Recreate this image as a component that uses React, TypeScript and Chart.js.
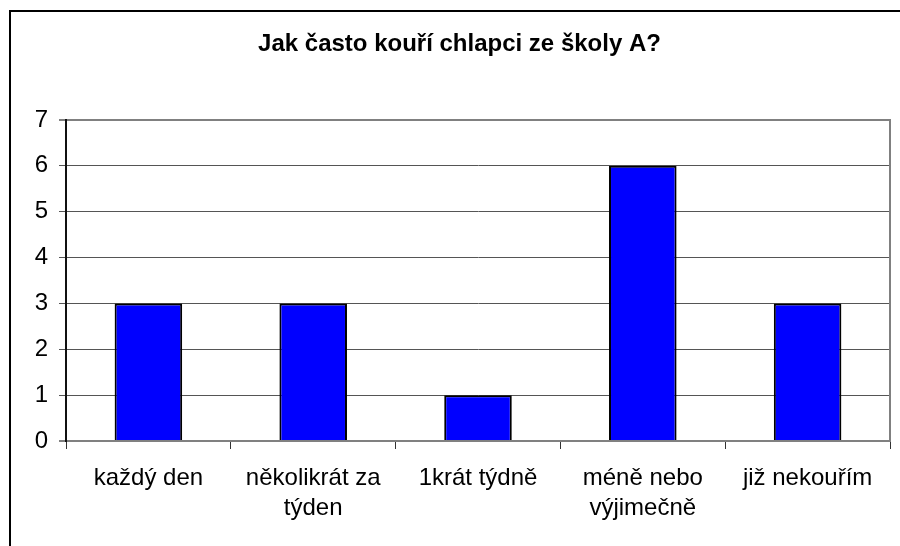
import { useEffect, useRef } from "react";
import { Chart, registerables } from "chart.js";

Chart.register(...registerables);

const chartTitle = "Jak často kouří chlapci ze školy A?";
const categories: string[][] = [
  ["každý den"],
  ["několikrát za", "týden"],
  ["1krát týdně"],
  ["méně nebo", "výjimečně"],
  ["již nekouřím"],
];
const counts: number[] = [3, 3, 1, 6, 3];
const yMin = 0;
const yMax = 7;
const yStep = 1;

const FONT = "'Liberation Sans', Arial, sans-serif";

export default function App() {
  const ref = useRef<HTMLCanvasElement>(null);

  useEffect(() => {
    if (!ref.current) return;

    const framePlugin = {
      id: "outerFrame",
      beforeDraw(chart: any) {
        const ctx = chart.ctx;
        ctx.save();
        ctx.strokeStyle = "#000";
        ctx.lineWidth = 2;
        ctx.beginPath();
        ctx.moveTo(10, 600);
        ctx.lineTo(10, 11);
        ctx.lineTo(912, 11);
        ctx.stroke();
        ctx.restore();
      },
    };

    const rightBorderPlugin = {
      id: "rightBorder",
      beforeDatasetsDraw(chart: any) {
        const { top, bottom, right } = chart.chartArea;
        const ctx = chart.ctx;
        ctx.save();
        ctx.strokeStyle = "#808080";
        ctx.lineWidth = 2;
        ctx.beginPath();
        ctx.moveTo(right, top - 1);
        ctx.lineTo(right, bottom + 1);
        ctx.stroke();
        ctx.restore();
      },
    };

    const isEdge = (v: number) => v === yMin || v === yMax;

    const chart = new Chart(ref.current, {
      type: "bar",
      data: {
        labels: categories,
        datasets: [
          {
            data: counts,
            backgroundColor: "#0000FF",
            borderColor: "#000000",
            borderWidth: 2,
            barPercentage: 0.41,
            categoryPercentage: 1,
          },
        ],
      },
      options: {
        responsive: false,
        animation: false,
        devicePixelRatio: 1,
        layout: { padding: { left: 29, right: 10, top: 0, bottom: 0 } },
        plugins: {
          legend: { display: false },
          tooltip: { enabled: false },
          title: {
            display: true,
            text: chartTitle,
            color: "#000",
            font: { family: FONT, size: 24, weight: "bold" },
            padding: { top: 30, bottom: 61.2 },
          },
        },
        scales: {
          x: {
            grid: {
              offset: true,
              drawOnChartArea: false,
              drawTicks: true,
              tickLength: 8,
              color: "#333",
              lineWidth: 1,
            },
            border: { display: false },
            ticks: {
              color: "#000",
              font: { family: FONT, size: 24, lineHeight: 1.25 },
              padding: 14,
              maxRotation: 0,
              autoSkip: false,
            },
            afterFit(scale: any) {
              scale.height = 105;
            },
          },
          y: {
            min: yMin,
            max: yMax,
            ticks: {
              stepSize: yStep,
              color: "#000",
              font: { family: FONT, size: 24 },
              padding: 11,
            },
            grid: {
              color: (ctx: any) => (ctx.tick && isEdge(ctx.tick.value) ? "#808080" : "#555"),
              lineWidth: (ctx: any) => (ctx.tick && isEdge(ctx.tick.value) ? 2 : 1),
              tickLength: 7,
            },
            border: { color: "#111", width: 2 },
            afterFit(scale: any) {
              scale.width = 37;
            },
          },
        },
      },
      plugins: [framePlugin, rightBorderPlugin],
    });

    return () => chart.destroy();
  }, []);

  return (
    <div
      style={{
        position: "fixed",
        left: 0,
        top: 0,
        width: 900,
        height: 546,
        overflow: "hidden",
        background: "#fff",
      }}
    >
      <canvas ref={ref} width={900} height={546} style={{ display: "block" }} />
    </div>
  );
}
